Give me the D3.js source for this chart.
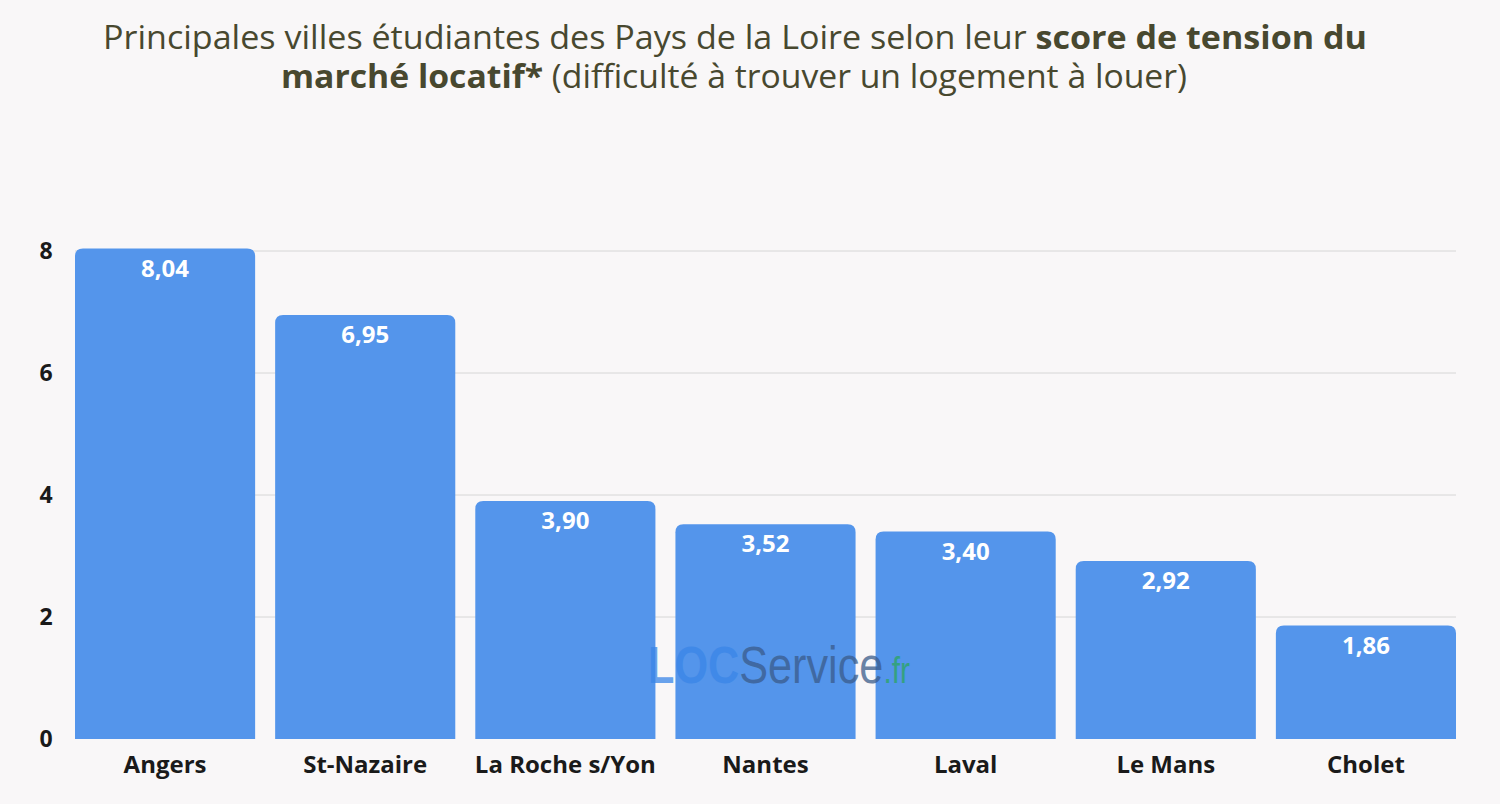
<!DOCTYPE html>
<html><head><meta charset="utf-8">
<script src="https://cdn.jsdelivr.net/npm/d3@7"></script>
<style>
body{margin:0;background:#f9f7f8;font-family:"Open Sans",sans-serif;}
</style></head>
<body><svg id="chart" width="1500" height="804"></svg>
<script>
const villes = ["Angers","St-Nazaire","La Roche s/Yon","Nantes","Laval","Le Mans","Cholet"];
const scores = [8.04,6.95,3.90,3.52,3.40,2.92,1.86];
const yTicks = [0,2,4,6,8];

const svg = d3.select("#chart");
svg.append("rect").attr("width",1500).attr("height",804).attr("fill","#f9f7f8");

const x = d3.scaleBand().domain(villes).range([75,1456]).paddingInner(0.1).paddingOuter(0);
const y = d3.scaleLinear().domain([0,8]).range([739,251]);

// grid
svg.append("g").selectAll("line").data(yTicks.slice(1)).enter().append("line")
    .attr("x1",75).attr("x2",1456)
    .attr("y1",d => y(d)).attr("y2",d => y(d))
    .attr("stroke","#d6d6d6").attr("stroke-width",1);

// y labels
svg.append("g").selectAll("text").data(yTicks).enter().append("text")
    .attr("x",46).attr("y",d => y(d)).attr("dy",".35em")
    .attr("text-anchor","middle")
    .style("font-size","23px").style("font-weight","700").style("fill","#1a1a1a")
    .text(d => d);

// bars (rounded top)
const r = 8;
svg.append("g").selectAll("path").data(scores).enter().append("path")
    .attr("fill","#5495eb")
    .attr("d",(d,i) => {
        const x0 = x(villes[i]), w = x.bandwidth(), top = y(d), b = y(0);
        return `M${x0},${b}V${top+r}Q${x0},${top} ${x0+r},${top}H${x0+w-r}Q${x0+w},${top} ${x0+w},${top+r}V${b}Z`;
    });

// value labels
svg.append("g").selectAll("text").data(scores).enter().append("text")
    .attr("x",(d,i) => x(villes[i]) + x.bandwidth()/2)
    .attr("y",d => y(d) + 28)
    .attr("text-anchor","middle")
    .style("font-size","24px").style("font-weight","700").style("fill","#ffffff")
    .text(d => d.toFixed(2).replace(".",","));

// x labels
svg.append("g").selectAll("text").data(villes).enter().append("text")
    .attr("x",d => x(d) + x.bandwidth()/2).attr("y",773)
    .attr("text-anchor","middle")
    .style("font-size","24px").style("font-weight","700").style("fill","#1a1a1a")
    .text(d => d);

// watermark
const wm = svg.append("text").attr("x",648).attr("y",683)
    .attr("textLength",262).attr("lengthAdjust","spacingAndGlyphs")
    .style("font-size","52px").style("font-family","'Liberation Sans',sans-serif").attr("opacity",0.75);
wm.append("tspan").text("LOC").style("font-weight","700").style("fill","#3a86e8");
wm.append("tspan").text("Service").style("fill","#3a5b8a");
wm.append("tspan").text(".fr").style("font-size","36px").style("fill","#2aa560");

// title
const title = svg.append("g").style("font-size","32px").style("fill","#48482f");
const t1 = title.append("text").attr("x",735).attr("y",49).attr("text-anchor","middle")
    .attr("textLength",1264).attr("lengthAdjust","spacingAndGlyphs");
t1.append("tspan").text("Principales villes étudiantes des Pays de la Loire selon leur ");
t1.append("tspan").text("score de tension du").style("font-weight","700");
const t2 = title.append("text").attr("x",734).attr("y",88).attr("text-anchor","middle")
    .attr("textLength",906).attr("lengthAdjust","spacingAndGlyphs");
t2.append("tspan").text("marché locatif*").style("font-weight","700");
t2.append("tspan").text(" (difficulté à trouver un logement à louer)");
</script></body></html>
